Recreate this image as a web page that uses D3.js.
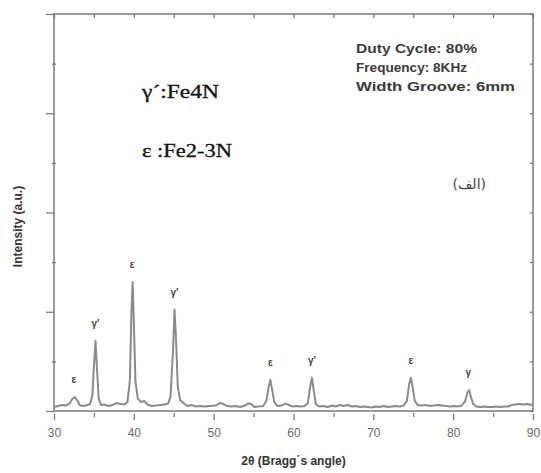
<!DOCTYPE html>
<html>
<head>
<meta charset="utf-8">
<script src="https://cdn.jsdelivr.net/npm/d3@7"></script>
<style>
  body { margin: 0; background: #fff; }
  svg { display: block; }
  .frame { fill: none; stroke: #7a7a7a; stroke-width: 1.5; }
  .tick line { stroke: #7a7a7a; stroke-width: 1.3; }
  .tick text { fill: #6a6a6a; font-family: Arial, "Liberation Sans", sans-serif; font-size: 12px; }
  .axis path { display: none; }
  .note { fill: #3a3a3a; font-family: Arial, "Liberation Sans", sans-serif; font-size: 13px; font-weight: bold; }
  .phase { fill: #111; font-family: "Liberation Serif", "Times New Roman", serif; font-size: 19px; stroke: #111; stroke-width: 0.3; }
  .peak { fill: #444; font-family: Arial, "Liberation Sans", sans-serif; font-size: 10px; font-weight: bold; }
  .title { fill: #333; font-family: Arial, "Liberation Sans", sans-serif; font-size: 12px; font-weight: bold; }
</style>
</head>
<body>
<div id="chart"></div>
<script>
// XRD pattern, 2theta (deg) vs intensity (a.u.)
var pattern = [
  [30.0, 8], [30.5, 10], [31.0, 12], [31.5, 11], [32.0, 16], [32.3, 24], [32.6, 28], [32.9, 22], [33.2, 12],
  [33.6, 10], [34.0, 11], [34.5, 14], [34.8, 30], [35.0, 90], [35.2, 141], [35.4, 80], [35.6, 25], [35.9, 12],
  [36.3, 13], [36.8, 10], [37.3, 12], [37.8, 16], [38.3, 14], [38.8, 13], [39.2, 18], [39.5, 60], [39.7, 200],
  [39.85, 260], [40.0, 180], [40.2, 60], [40.5, 25], [40.9, 18], [41.3, 20], [41.8, 12], [42.3, 10], [42.8, 11],
  [43.3, 12], [43.8, 13], [44.3, 15], [44.6, 30], [44.9, 120], [45.1, 204], [45.3, 140], [45.5, 50], [45.8, 22],
  [46.2, 16], [46.7, 10], [47.2, 12], [47.8, 9], [48.3, 10], [48.8, 9], [49.5, 10], [50.2, 11], [50.8, 16],
  [51.2, 14], [51.7, 10], [52.2, 9], [52.8, 10], [53.3, 8], [53.8, 10], [54.3, 15], [54.7, 14], [55.1, 8],
  [55.6, 9], [56.2, 10], [56.6, 20], [56.9, 50], [57.1, 63], [57.3, 45], [57.6, 18], [58.0, 10], [58.5, 11],
  [59.0, 15], [59.4, 12], [59.9, 9], [60.4, 10], [60.9, 9], [61.4, 10], [61.8, 16], [62.1, 50], [62.3, 67],
  [62.5, 45], [62.8, 14], [63.2, 9], [63.7, 10], [64.3, 8], [64.8, 11], [65.3, 9], [65.8, 12], [66.3, 10],
  [66.8, 12], [67.3, 9], [67.8, 10], [68.3, 8], [68.8, 9], [69.3, 8], [69.8, 7], [70.3, 9], [70.8, 8],
  [71.3, 10], [71.8, 8], [72.3, 9], [72.8, 10], [73.3, 9], [73.8, 11], [74.2, 20], [74.5, 55], [74.7, 67],
  [74.9, 50], [75.2, 20], [75.6, 12], [76.1, 11], [76.6, 12], [77.1, 10], [77.6, 11], [78.1, 12], [78.6, 11],
  [79.1, 10], [79.6, 9], [80.1, 10], [80.6, 9], [81.1, 11], [81.5, 20], [81.8, 38], [82.0, 42], [82.2, 30],
  [82.5, 14], [82.9, 9], [83.4, 8], [83.9, 9], [84.4, 8], [84.9, 8], [85.4, 9], [85.9, 8], [86.4, 9],
  [86.9, 9], [87.3, 12], [87.8, 13], [88.3, 14], [88.8, 13], [89.3, 14], [89.9, 12]
];

var peakAngles = [32.5, 35.2, 39.8, 45.1, 57.1, 62.3, 74.7, 81.9];
var peakHeights = [28, 141, 260, 204, 63, 67, 67, 42];
var peakLabels = ['ε', 'γ′', 'ε', 'γ′', 'ε', 'γ′', 'ε', 'γ'];

var xTicks = [30, 40, 50, 60, 70, 80, 90];
var xMinorTicks = [35, 45, 55, 65, 75, 85];
var yTicks = [0, 200, 400, 600, 800];
var yMinorTicks = [100, 300, 500, 700];

var notes = ['Duty Cycle: 80%', 'Frequency: 8KHz', 'Width Groove: 6mm'];
var phases = ['γ´:Fe4N', 'ε :Fe2-3N'];

var margin = {top: 14, right: 8, bottom: 62, left: 54},
    width = 541,
    height = 473,
    plotWidth = width - margin.left - margin.right,
    plotHeight = height - margin.top - margin.bottom;

var xScale = d3.scaleLinear().domain([30, 90]).range([0, plotWidth]);
var yScale = d3.scaleLinear().domain([0, 800]).range([plotHeight, 0]);

var svg = d3.select('#chart').append('svg')
    .attr('width', width)
    .attr('height', height);

var g = svg.append('g')
    .attr('transform', 'translate(' + margin.left + ',' + margin.top + ')');

// bottom axis: major ticks with labels, minor ticks without
g.append('g')
    .attr('class', 'axis')
    .attr('transform', 'translate(0,' + (plotHeight + 3) + ')')
    .call(d3.axisBottom(xScale).tickValues(xTicks).tickSize(6).tickPadding(8).tickFormat(d3.format('d')));
g.append('g')
    .attr('class', 'axis')
    .attr('transform', 'translate(0,' + (plotHeight + 2) + ')')
    .call(d3.axisBottom(xScale).tickValues(xMinorTicks).tickSize(4).tickFormat(''));

// top axis ticks, pointing inward
g.append('g')
    .attr('class', 'axis')
    .call(d3.axisBottom(xScale).tickValues(xTicks.concat(xMinorTicks)).tickSize(4).tickFormat(''));

// left axis
g.append('g')
    .attr('class', 'axis')
    .call(d3.axisLeft(yScale).tickValues(yTicks).tickSize(8).tickFormat(''));
g.append('g')
    .attr('class', 'axis')
    .attr('transform', 'translate(2,0)')
    .call(d3.axisLeft(yScale).tickValues(yMinorTicks).tickSize(4).tickFormat(''));

// right axis, inward ticks
g.append('g')
    .attr('class', 'axis')
    .attr('transform', 'translate(' + plotWidth + ',0)')
    .call(d3.axisLeft(yScale).tickValues(yTicks.concat(yMinorTicks)).tickSize(3).tickFormat(''));

g.append('rect')
    .attr('class', 'frame')
    .attr('width', plotWidth)
    .attr('height', plotHeight);

var line = d3.line()
    .x(function (d) { return xScale(d[0]); })
    .y(function (d) { return yScale(d[1]); });

g.append('path')
    .datum(pattern)
    .attr('d', line)
    .attr('fill', 'none')
    .attr('stroke', '#8a8a8a')
    .attr('stroke-width', 2)
    .attr('stroke-linejoin', 'round');

g.append('g')
    .selectAll('text')
    .data(peakAngles)
    .enter()
    .append('text')
    .attr('class', 'peak')
    .attr('text-anchor', 'middle')
    .attr('x', function (d) { return xScale(d); })
    .attr('y', function (d, i) { return yScale(peakHeights[i]) - 14; })
    .text(function (d, i) { return peakLabels[i]; });

// process parameters
var noteWidths = [121, 111, 159];
g.append('g')
    .selectAll('text')
    .data(notes)
    .enter()
    .append('text')
    .attr('class', 'note')
    .attr('x', 302)
    .attr('y', function (d, i) { return 39 + i * 19; })
    .attr('textLength', function (d, i) { return noteWidths[i]; })
    .attr('lengthAdjust', 'spacingAndGlyphs')
    .text(function (d) { return d; });

var phaseWidths = [77, 90];
g.append('g')
    .selectAll('text')
    .data(phases)
    .enter()
    .append('text')
    .attr('class', 'phase')
    .attr('x', 88)
    .attr('y', function (d, i) { return 84 + i * 59; })
    .attr('textLength', function (d, i) { return phaseWidths[i]; })
    .attr('lengthAdjust', 'spacingAndGlyphs')
    .text(function (d) { return d; });

g.append('text')
    .attr('x', 432)
    .attr('y', 175)
    .attr('text-anchor', 'end')
    .attr('fill', '#444')
    .style('font-family', '"DejaVu Sans", sans-serif')
    .style('font-size', '14px')
    .text('(الف)');

g.append('text')
    .attr('class', 'title')
    .attr('text-anchor', 'middle')
    .attr('transform', 'translate(' + (plotWidth / 2) + ',' + (plotHeight + 54) + ')')
    .text('2θ (Bragg΄s angle)');

g.append('text')
    .attr('class', 'title')
    .attr('text-anchor', 'middle')
    .attr('transform', 'translate(-32,' + (plotHeight / 2 + 14) + ') rotate(-90)')
    .text('Intensity (a.u.)');
</script>
</body>
</html>
